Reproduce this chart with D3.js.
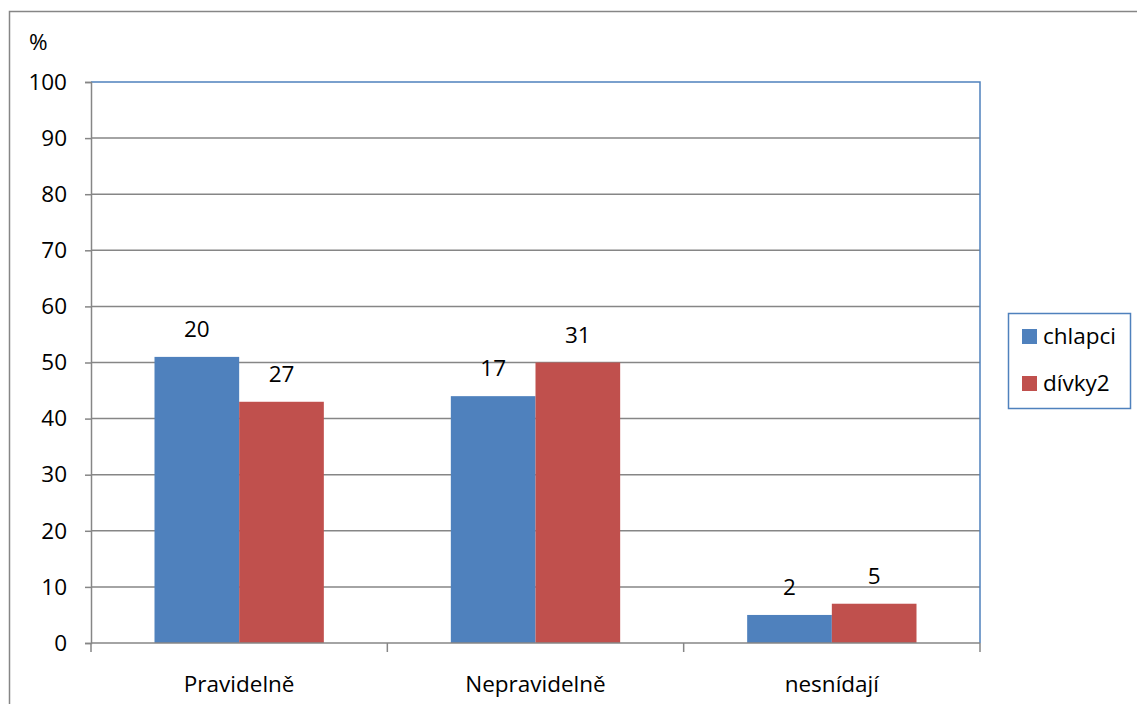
<!DOCTYPE html>
<html>
<head>
<meta charset="utf-8">
<script src="https://cdn.jsdelivr.net/npm/d3@7"></script>
<style>
  html, body { margin: 0; padding: 0; background: #fff; }
  svg { display: block; }
  text { font-family: "Open Sans", Lato, "Liberation Sans", sans-serif; fill: #000; }
</style>
</head>
<body>
<svg id="chart" width="1137" height="704"></svg>
<script>
// Breakfast habits by group
const categories = ["Pravidelně", "Nepravidelně", "nesnídají"];
const seriesNames = ["chlapci", "dívky2"];
const percentBoys = [51, 44, 5];
const percentGirls = [43, 50, 7];
const countBoys = [20, 17, 2];
const countGirls = [27, 31, 5];
const yTicks = [0, 10, 20, 30, 40, 50, 60, 70, 80, 90, 100];
const colors = ["#4F81BD", "#C0504D"];

const FONT = "'Open Sans', Lato, 'Liberation Sans', sans-serif";
const FS = 22.5;

const svg = d3.select("#chart");
const plot = { left: 91, right: 980, top: 82, bottom: 643 };

// outer chart frame
svg.append("rect")
  .attr("x", 9.5).attr("y", 11.5)
  .attr("width", 1140).attr("height", 700)
  .attr("fill", "#fff").attr("stroke", "#868686").attr("stroke-width", 1.5);

const x = d3.scaleBand().domain(categories).range([plot.left, plot.right]).paddingInner(0).paddingOuter(0);
const x1 = d3.scaleBand().domain(seriesNames).range([0, x.bandwidth()]).paddingInner(0).paddingOuter(0.75);
const y = d3.scaleLinear().domain([0, 100]).range([plot.bottom, plot.top]);

// gridlines
svg.append("g").selectAll("line").data(yTicks.filter(t => t > 0 && t < 100)).join("line")
  .attr("x1", plot.left).attr("x2", plot.right)
  .attr("y1", d => y(d)).attr("y2", d => y(d))
  .attr("stroke", "#868686").attr("stroke-width", 1.5);

// plot border top and right
svg.append("path")
  .attr("d", `M${plot.left},${y(100)}H${plot.right}V${plot.bottom}`)
  .attr("fill", "none").attr("stroke", "#4F81BD").attr("stroke-width", 1.5);

// bars
const rows = categories.map((c, i) => ({
  cat: c,
  vals: [
    { s: seriesNames[0], v: percentBoys[i], n: countBoys[i], c: colors[0] },
    { s: seriesNames[1], v: percentGirls[i], n: countGirls[i], c: colors[1] }
  ]
}));

const groups = svg.append("g").selectAll("g").data(rows).join("g")
  .attr("transform", d => `translate(${x(d.cat)},0)`);

groups.selectAll("rect").data(d => d.vals).join("rect")
  .attr("x", d => x1(d.s)).attr("width", x1.bandwidth())
  .attr("y", d => y(d.v)).attr("height", d => y(0) - y(d.v))
  .attr("fill", d => d.c);

groups.selectAll("text").data(d => d.vals).join("text")
  .attr("x", d => x1(d.s) + x1.bandwidth() / 2)
  .attr("y", d => y(d.v) - 20)
  .attr("text-anchor", "middle")
  .attr("font-size", FS)
  .text(d => d.n);

// y axis
const yAxis = svg.append("g").attr("transform", `translate(${plot.left},0)`)
  .call(d3.axisLeft(y).tickValues(yTicks).tickSize(6).tickPadding(18).tickFormat(d3.format("d")));
yAxis.select(".domain").attr("stroke", "#868686").attr("stroke-width", 1.5);
yAxis.selectAll(".tick line").attr("stroke", "#868686").attr("stroke-width", 1.5);
yAxis.selectAll(".tick text").attr("font-size", FS).attr("font-family", FONT).attr("fill", "#000");

// x axis with ticks at category boundaries
const xAxis = svg.append("g").attr("transform", `translate(0,${plot.bottom})`);
xAxis.append("line").attr("x1", plot.left).attr("x2", plot.right)
  .attr("stroke", "#868686").attr("stroke-width", 1.5);
const boundaries = categories.map(c => x(c)).concat([x(categories[categories.length - 1]) + x.bandwidth()]);
xAxis.selectAll("line.tk").data(boundaries).join("line").attr("class", "tk")
  .attr("x1", d => d).attr("x2", d => d).attr("y1", 0).attr("y2", 9)
  .attr("stroke", "#868686").attr("stroke-width", 1.5);
xAxis.selectAll("text").data(categories).join("text")
  .attr("x", d => x(d) + x.bandwidth() / 2).attr("y", 49)
  .attr("text-anchor", "middle").attr("font-size", FS)
  .text(d => d);

// unit label
svg.append("text").attr("x", 29).attr("y", 50).attr("font-size", FS).text("%");

// legend
const lg = svg.append("g").attr("transform", "translate(1008,313)");
lg.append("rect").attr("x", 0.5).attr("y", 0.5).attr("width", 122).attr("height", 95)
  .attr("fill", "#fff").attr("stroke", "#4F81BD").attr("stroke-width", 1.5);
seriesNames.forEach((s, i) => {
  lg.append("rect").attr("x", 14).attr("y", 16 + i * 47).attr("width", 15).attr("height", 15).attr("fill", colors[i]);
  lg.append("text").attr("x", 35).attr("y", 31 + i * 47).attr("font-size", FS).text(s);
});
</script>
</body>
</html>
